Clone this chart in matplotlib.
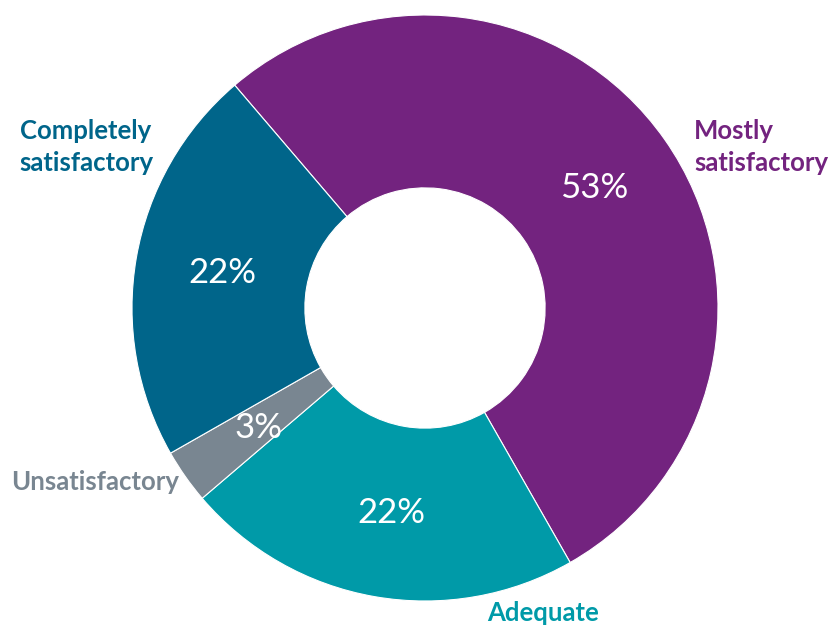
import matplotlib.pyplot as plt

# data (clockwise from the top-left boundary)
labels = ["Mostly\nsatisfactory", "Adequate", "Unsatisfactory", "Completely\nsatisfactory"]
shares = [53, 22, 3, 22]
colors = ["#73237F", "#009AA8", "#798691", "#00658A"]

plt.rcParams['font.family'] = ['Lato', 'DejaVu Sans']

W, H = 832, 626
cx, cy, R = 425, 308, 293

fig = plt.figure(figsize=(W / 100, H / 100), dpi=100)
ax = fig.add_axes([0, 0, 1, 1])

wedges, _ = ax.pie(shares, colors=colors, startangle=130.5, counterclock=False,
                   radius=1, wedgeprops=dict(width=0.59, edgecolor='white', linewidth=0.8))

# pie() resets the limits, so set them afterwards
ax.set_xlim(-cx / R, (W - cx) / R)
ax.set_ylim(-(H - cy) / R, cy / R)
ax.set_aspect('equal')
ax.axis('off')


def px(x, y):
    return (x - cx) / R, (cy - y) / R


# percentage labels inside the ring
pct_pos = [(594, 188), (391, 513), (258, 428), (222, 273)]
for v, (x, y) in zip(shares, pct_pos):
    ax.text(*px(x, y), f"{v}%", color='white', fontsize=25, ha='center', va='center')

# category labels outside the ring
lab_pos = [(694, 147, 'left'), (543, 613, 'center'), (95, 482, 'center'), (86, 147, 'center')]
for lab, c, (x, y, ha) in zip(labels, colors, lab_pos):
    ax.text(*px(x, y), lab, color=c, fontsize=18.5, fontweight='bold', ha=ha, va='center',
            linespacing=1.4)

fig.savefig("out.png", dpi=100)
